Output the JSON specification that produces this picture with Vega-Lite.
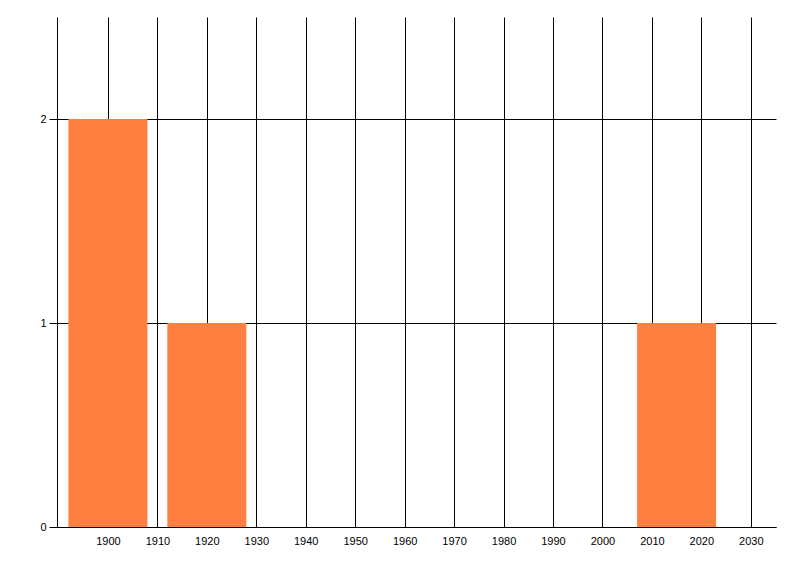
{
  "$schema": "https://vega.github.io/schema/vega-lite/v6.json",
  "width": 719,
  "height": 510,
  "autosize": {"type": "none"},
  "padding": {"left": 57, "top": 17, "right": 24, "bottom": 49},
  "background": "white",
  "config": {
    "view": {"stroke": null},
    "axis": {
      "labelFont": "Liberation Sans",
      "labelFontSize": 11,
      "labelColor": "#000000",
      "gridColor": "#000000",
      "gridOpacity": 1,
      "gridWidth": 1,
      "domainColor": "#000000",
      "domainWidth": 1,
      "tickColor": "#000000",
      "title": null
    }
  },
  "data": {
    "values": [
      {"year": 1900, "count": 2},
      {"year": 1920, "count": 1},
      {"year": 2015, "count": 1}
    ]
  },
  "mark": {"type": "bar", "width": 79, "color": "#FF7F41"},
  "encoding": {
    "x": {
      "field": "year",
      "type": "quantitative",
      "scale": {"domain": [1889.7, 2035.1], "nice": false, "zero": false, "padding": 0},
      "axis": {
        "values": [1900, 1910, 1920, 1930, 1940, 1950, 1960, 1970, 1980, 1990, 2000, 2010, 2020, 2030],
        "format": "d",
        "grid": true,
        "ticks": false,
        "labelPadding": 8,
        "labelFlush": false
      }
    },
    "y": {
      "field": "count",
      "type": "quantitative",
      "scale": {"domain": [0, 2.5], "nice": false},
      "axis": {
        "values": [0, 1, 2],
        "grid": true,
        "tickSize": 8,
        "labelPadding": 3,
        "labelFlush": false
      }
    }
  }
}
